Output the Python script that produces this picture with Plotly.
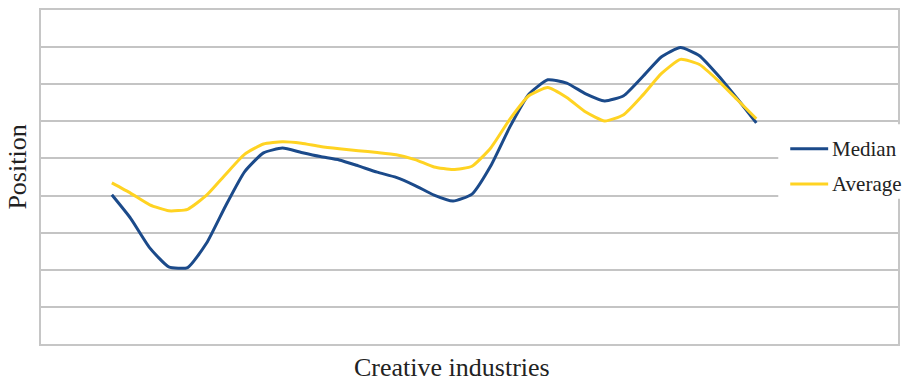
import plotly.graph_objects as go

# Industry rank position along the creative-industries axis
industry_index = list(range(35))

median_position = [
    4.02, 3.38, 2.59, 2.08, 2.06, 2.72, 3.72, 4.64, 5.15, 5.28,
    5.16, 5.05, 4.96, 4.80, 4.63, 4.49, 4.27, 4.01, 3.85, 4.04,
    4.81, 5.85, 6.73, 7.12, 7.03, 6.74, 6.55, 6.69, 7.20, 7.74,
    7.99, 7.77, 7.23, 6.61, 5.96,
]

average_position = [
    4.34, 4.06, 3.75, 3.59, 3.63, 4.01, 4.57, 5.11, 5.39, 5.45,
    5.41, 5.32, 5.26, 5.21, 5.16, 5.10, 4.97, 4.77, 4.70, 4.79,
    5.29, 6.06, 6.69, 6.91, 6.64, 6.25, 6.01, 6.18, 6.70, 7.29,
    7.67, 7.53, 7.09, 6.58, 6.07,
]

series_names = ["Median", "Average"]
series_colors = ["#1b4a8a", "#ffd322"]

fig = go.Figure()
for name, values, color in zip(series_names, [median_position, average_position], series_colors):
    fig.add_trace(go.Scatter(
        x=industry_index, y=values, name=name, mode="lines",
        line=dict(color=color, width=3, shape="spline", smoothing=0.5),
        showlegend=False,
    ))

font_family = "Liberation Serif, Times New Roman, serif"
text_color = "#222222"

# plot area spans x 41..900 and y 8..344 in pixels
plot_left, plot_right, plot_top, plot_bottom = 41, 900, 8, 344
pw, ph = plot_right - plot_left, plot_bottom - plot_top


def px_x(p):
    return (p - plot_left) / pw


def px_y(p):
    return (plot_bottom - p) / ph


# legend drawn by hand so it can hang over the right frame edge
shapes = [
    dict(type="rect", xref="paper", yref="paper",
         x0=px_x(780), x1=px_x(908), y0=px_y(198), y1=px_y(123),
         fillcolor="white", line=dict(width=0), layer="above"),
]
annotations = []
for i, (name, color) in enumerate(zip(series_names, series_colors)):
    yc = 147.5 + i * 35.5
    shapes.append(dict(type="line", xref="paper", yref="paper",
                       x0=px_x(792), x1=px_x(830), y0=px_y(yc), y1=px_y(yc),
                       line=dict(color=color, width=3), layer="above"))
    annotations.append(dict(text=name, xref="paper", yref="paper",
                            x=px_x(832), y=px_y(yc), xanchor="left", yanchor="middle",
                            showarrow=False,
                            font=dict(size=21, family=font_family, color=text_color)))

annotations += [
    dict(text="Creative industries", xref="paper", yref="paper",
         x=px_x(452.5), y=px_y(368), xanchor="center", yanchor="middle",
         showarrow=False, font=dict(size=26, family=font_family, color=text_color)),
    dict(text="Position", xref="paper", yref="paper",
         x=px_x(18), y=px_y(166.5), xanchor="center", yanchor="middle",
         textangle=-90, showarrow=False,
         font=dict(size=26, family=font_family, color=text_color)),
]

fig.update_layout(
    width=908, height=382,
    margin=dict(l=plot_left, r=908 - plot_right, t=plot_top, b=382 - plot_bottom),
    paper_bgcolor="white", plot_bgcolor="white",
    font=dict(family=font_family, color=text_color),
    showlegend=False,
    xaxis=dict(
        range=[-3.737, 41.474], showgrid=False, zeroline=False,
        showticklabels=False, ticks="",
        showline=True, mirror=True, linecolor="#c6c6c6", linewidth=2,
    ),
    yaxis=dict(
        range=[0, 9], dtick=1, showgrid=True, gridcolor="#c4c4c4", gridwidth=1.5,
        zeroline=False, showticklabels=False, ticks="",
        showline=True, mirror=True, linecolor="#c6c6c6", linewidth=2,
    ),
    shapes=shapes,
    annotations=annotations,
)

fig.write_html("out.html")
